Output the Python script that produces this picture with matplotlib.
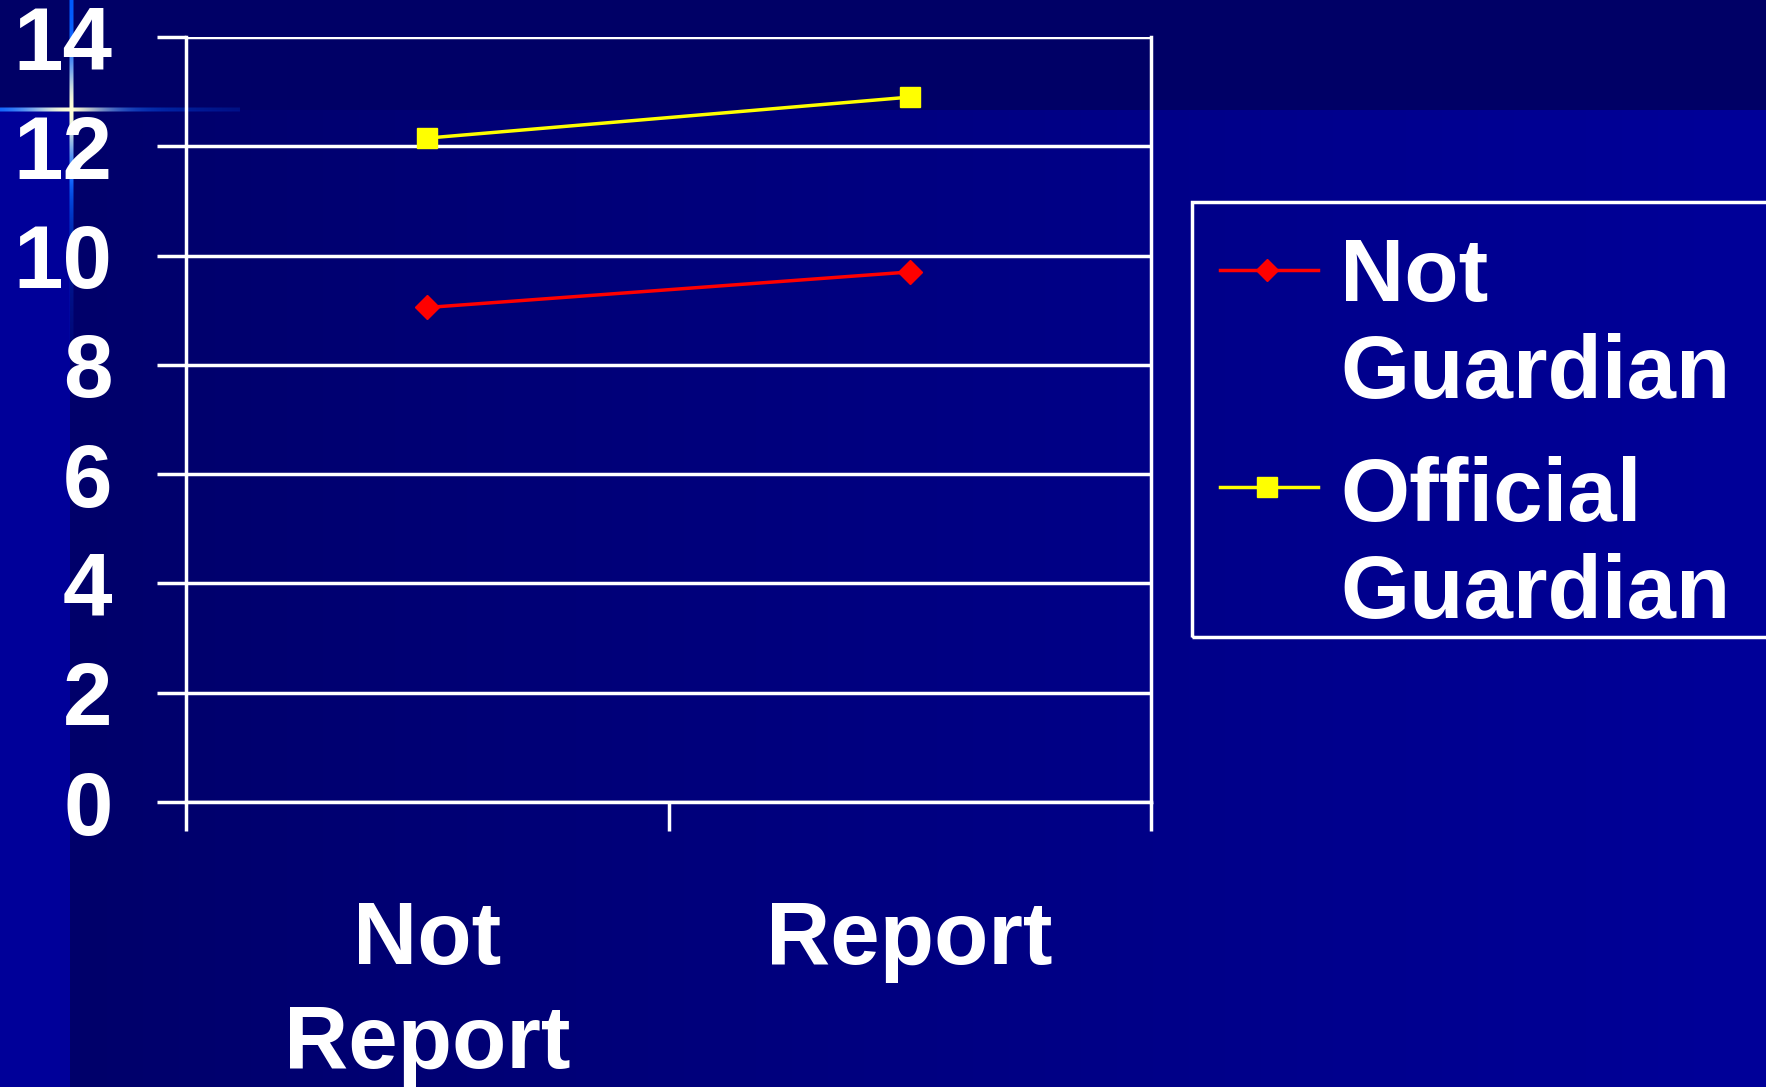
import numpy as np
import matplotlib
matplotlib.use('Agg')
from matplotlib import pyplot as plt
from matplotlib.lines import Line2D
from matplotlib.patches import Rectangle

# data
categories = ['Not\nReport', 'Report']
series_names = ['Not\nGuardian', 'Official\nGuardian']
not_guardian = [9.05, 9.7]
official_guardian = [12.15, 12.9]
y_ticks = [0, 2, 4, 6, 8, 10, 12, 14]

red = '#ff0000'
yellow = '#ffff00'

W, H = 1766, 1087
plt.rcParams['font.family'] = ['Liberation Sans', 'DejaVu Sans']
plt.rcParams['font.weight'] = 'bold'

fig = plt.figure(figsize=(W / 100, H / 100), dpi=100)

# --- slide background (dark band on top, blue gradient below, glow cross) ---
bg = np.zeros((H, W, 3))
xs = np.arange(W)
b = np.where(xs < 70, 153, 106 + (153 - 106) * (xs - 70) / (W - 70))
bg[:, :, 2] = b[None, :] / 255
bg[:110, :, 2] = 102 / 255

glow_blue = np.array([0, 90, 255]) / 255
glow_yel = np.array([255, 255, 215]) / 255
cx, cy = 71, 109
# horizontal streak
for x in range(0, 240):
    d = abs(x - cx)
    wy = np.exp(-(d / 45) ** 2)
    a = np.exp(-max(x - cx, 0) / 100)
    col = wy * glow_yel + (1 - wy) * glow_blue
    for yy, k in [(cy - 2, 0.5), (cy - 1, 1), (cy, 1), (cy + 1, 1), (cy + 2, 0.5)]:
        aa = a * k
        bg[yy, x] = aa * col + (1 - aa) * bg[yy, x]
# vertical streak
for y in range(0, 340):
    d = abs(y - cy)
    wy = np.exp(-(d / 45) ** 2)
    a = np.exp(-max(y - 180, 0) / 70)
    col = wy * glow_yel + (1 - wy) * glow_blue
    for xx, k in [(cx - 2, 0.5), (cx - 1, 1), (cx, 1), (cx + 1, 1), (cx + 2, 0.5)]:
        aa = a * k
        bg[y, xx] = aa * col + (1 - aa) * bg[y, xx]

bgax = fig.add_axes([0, 0, 1, 1], zorder=-5)
bgax.imshow(bg, aspect='auto', interpolation='nearest')
bgax.axis('off')

# --- chart ---
ax = fig.add_axes([186 / W, 1 - 802 / H, (1151 - 186) / W, (802 - 37) / H])
ax.set_facecolor('none')

x = np.arange(len(categories)) + 0.5
ax.plot(x, not_guardian, color=red, linewidth=2.5, marker='D', markersize=12, zorder=3)
ax.plot(x, official_guardian, color=yellow, linewidth=2.5, marker='s', markersize=15, zorder=3)

ax.set_xlim(0, 2)
ax.set_ylim(0, 14)

ax.set_yticks(y_ticks)
ax.set_yticklabels([str(v) for v in y_ticks])
ax.yaxis.grid(True, color='white', linewidth=2.5)
ax.set_axisbelow(True)

ax.set_xticks([0, 1, 2])
ax.set_xticklabels([])
ax.set_xticks(x, minor=True)
ax.set_xticklabels(categories, minor=True, linespacing=1.3)

ax.tick_params(axis='y', direction='out', length=21, width=2.5, colors='white',
               labelsize=64, pad=32)
ax.tick_params(axis='x', which='major', direction='out', length=21, width=2.5, colors='white')
ax.tick_params(axis='x', which='minor', length=0, labelsize=64, labelcolor='white', pad=70)

for s in ['left', 'right', 'bottom']:
    ax.spines[s].set_color('white')
    ax.spines[s].set_linewidth(2.5)
ax.spines['top'].set_visible(False)

# --- legend drawn by hand so the marker sits on the first text line ---
def fx(px):
    return px / W

def fy(py):
    return 1 - py / H

fig.add_artist(Rectangle((fx(1192), fy(637)), fx(1800) - fx(1192), fy(202) - fy(637),
                         transform=fig.transFigure, fill=False, edgecolor='white', linewidth=2.5))
legend_rows = [(series_names[0], red, 'D', 11, 270, 236),
               (series_names[1], yellow, 's', 14, 487, 456)]
for label, c, m, ms, ly, ty in legend_rows:
    fig.add_artist(Line2D([fx(1220), fx(1318)], [fy(ly), fy(ly)], transform=fig.transFigure,
                          color=c, linewidth=2.5))
    fig.add_artist(Line2D([fx(1267)], [fy(ly)], transform=fig.transFigure,
                          color=c, marker=m, markersize=ms, linestyle='none'))
    fig.text(fx(1340), fy(ty), label, color='white', fontsize=64, fontweight='bold',
             va='top', ha='left', linespacing=1.2)

fig.savefig('out.png', dpi=100)
